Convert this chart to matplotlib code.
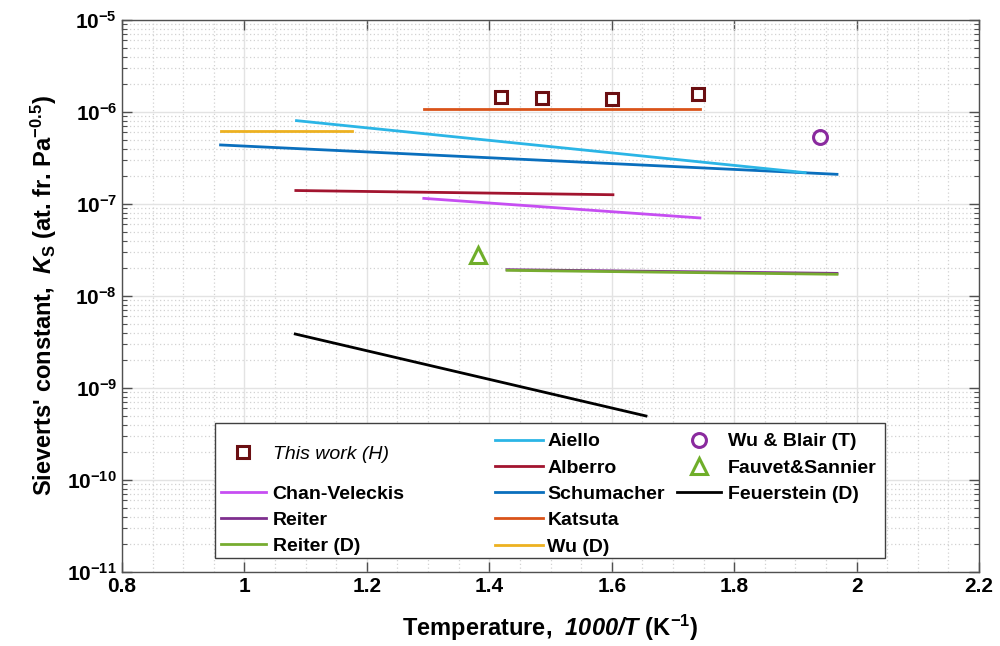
import math
import matplotlib
matplotlib.use("Agg")
import matplotlib.pyplot as plt
import matplotlib.ticker as mticker
from matplotlib.lines import Line2D
from matplotlib.patches import Rectangle

plt.rcParams['font.family'] = ['Liberation Sans', 'DejaVu Sans']
plt.rcParams['font.weight'] = 'bold'
plt.rcParams['axes.labelweight'] = 'bold'
plt.rcParams['mathtext.fontset'] = 'custom'
plt.rcParams['mathtext.rm'] = 'Liberation Sans:bold'
plt.rcParams['mathtext.bf'] = 'Liberation Sans:bold'
plt.rcParams['mathtext.it'] = 'Liberation Sans:italic:bold'
plt.rcParams['mathtext.sf'] = 'Liberation Sans:italic:bold'

# measured points (1000/T, Ks)
this_work_x = [1.419, 1.486, 1.600, 1.741]
this_work_ks = [1.44e-6, 1.43e-6, 1.37e-6, 1.56e-6]
wu_blair_x = [1.941]
wu_blair_ks = [5.3e-7]
fauvet_x = [1.382]
fauvet_ks = [2.79e-8]

# literature correlations, end points of each Arrhenius line
aiello_x = [1.085, 1.916]
aiello_ks = [8.05e-7, 2.19e-7]
alberro_x = [1.084, 1.602]
alberro_ks = [1.40e-7, 1.26e-7]
schumacher_x = [0.961, 1.968]
schumacher_ks = [4.38e-7, 2.10e-7]
katsuta_x = [1.294, 1.744]
katsuta_ks = [1.07e-6, 1.07e-6]
wu_d_x = [0.961, 1.175]
wu_d_ks = [6.27e-7, 6.27e-7]
chan_x = [1.293, 1.744]
chan_ks = [1.15e-7, 7.05e-8]
reiter_x = [1.429, 1.968]
reiter_ks = [1.93e-8, 1.76e-8]
reiter_d_x = [1.429, 1.968]
reiter_d_ks = [1.90e-8, 1.72e-8]
feuerstein_x = [1.083, 1.656]
feuerstein_ks = [3.86e-9, 4.96e-10]

x_ticks = [0.8, 1.0, 1.2, 1.4, 1.6, 1.8, 2.0, 2.2]
x_ticklabels = ['0.8', '1', '1.2', '1.4', '1.6', '1.8', '2', '2.2']

fig = plt.figure(figsize=(10, 6.46), dpi=100)
ax = fig.add_axes([0.122, 0.1146, 0.857, 0.8545])

lw = 2.0
c_aiello = '#2bb5e6'
c_alberro = '#a2142f'
c_schum = '#0a6fbd'
c_katsuta = '#d95319'
c_wu_d = '#edb120'
c_chan = '#c64ef2'
c_reiter = '#7e2f8e'
c_reiter_d = '#77ac30'

ax.plot(katsuta_x, katsuta_ks, color=c_katsuta, lw=lw, zorder=3)
ax.plot(wu_d_x, wu_d_ks, color=c_wu_d, lw=lw, zorder=3)
ax.plot(schumacher_x, schumacher_ks, color=c_schum, lw=lw, zorder=3)
ax.plot(aiello_x, aiello_ks, color=c_aiello, lw=lw, zorder=3)
ax.plot(alberro_x, alberro_ks, color=c_alberro, lw=lw, zorder=3)
ax.plot(chan_x, chan_ks, color=c_chan, lw=lw, zorder=3)
ax.plot(reiter_x, reiter_ks, color=c_reiter, lw=lw, zorder=3)
ax.plot(reiter_d_x, reiter_d_ks, color=c_reiter_d, lw=lw, zorder=3)
ax.plot(feuerstein_x, feuerstein_ks, color='black', lw=lw, zorder=3)

sq_style = dict(ls='none', marker='s', ms=8, mfc='white', mec='#6b0f12', mew=2.2)
circ_style = dict(ls='none', marker='o', ms=10, mfc='none', mec='#8a2a9e', mew=2.2)
tri_style = dict(ls='none', marker='^', ms=12, mfc='none', mec='#6fae2a', mew=2.2)
ax.plot(this_work_x, this_work_ks, zorder=4, **sq_style)
ax.plot(wu_blair_x, wu_blair_ks, zorder=4, **circ_style)
ax.plot(fauvet_x, fauvet_ks, zorder=4, **tri_style)

ax.set_yscale('log')
ax.set_xlim(0.8, 2.2)
ax.set_ylim(1e-11, 1e-5)
ax.set_xticks(x_ticks)
ax.set_xticklabels(x_ticklabels)
ax.xaxis.set_minor_locator(mticker.MultipleLocator(0.05))
ax.yaxis.set_major_locator(mticker.LogLocator(base=10, numticks=10))
ax.yaxis.set_minor_locator(mticker.LogLocator(base=10, subs=range(2, 10), numticks=20))
ax.yaxis.set_minor_formatter(mticker.NullFormatter())
ax.yaxis.set_major_formatter(
    mticker.FuncFormatter(lambda v, p: r'$\mathbf{10^{%d}}$' % round(math.log10(v))))

axis_col = '#505050'
ax.tick_params(which='both', direction='in', top=True, right=True,
               color=axis_col, labelsize=15, labelcolor='black')
ax.tick_params(which='major', length=7, width=1)
ax.tick_params(axis='y', which='minor', length=3.5, width=0.8)
ax.tick_params(axis='x', which='minor', length=0)
for s in ax.spines.values():
    s.set_color(axis_col)
    s.set_linewidth(1.0)

ax.grid(which='major', color='#e3e3e3', lw=1.0, ls='-', zorder=0)
ax.grid(which='minor', color='#d2d2d2', lw=0.9, ls=(0, (1, 2)), zorder=0)
ax.set_axisbelow(True)

ax.set_xlabel(r"Temperature,  $\mathsf{1000/T}$ (K$^{-1}$)", fontsize=17, labelpad=12)
ax.set_ylabel(r"Sieverts' constant,  $K_{\mathrm{S}}$ (at. fr. Pa$^{-0.5}$)",
              fontsize=17, labelpad=6)

# legend frame and entries
ax.add_patch(Rectangle((0.1085, 0.0254), 0.7818, 0.2446, transform=ax.transAxes,
                       facecolor='white', edgecolor='#404040', lw=1.0, zorder=5))

fs = 14
leg_kw = dict(frameon=False, borderpad=0, loc='upper left',
              labelspacing=0.445, borderaxespad=0)

h_this = [Line2D([], [], **sq_style)]
leg_a = ax.legend(h_this, ['This work (H)'], bbox_to_anchor=(0.1155, 0.230),
                  handlelength=2.3, handletextpad=0.36,
                  prop=dict(size=fs, style='italic', weight='normal'), **leg_kw)
leg_a.set_zorder(6)
ax.add_artist(leg_a)

h_col1 = [Line2D([], [], color=c, lw=lw) for c in (c_chan, c_reiter, c_reiter_d)]
leg_b = ax.legend(h_col1, ['Chan-Veleckis', 'Reiter', 'Reiter (D)'],
                  bbox_to_anchor=(0.1155, 0.1576), handlelength=2.3,
                  handletextpad=0.36, fontsize=fs, **leg_kw)
leg_b.set_zorder(6)
ax.add_artist(leg_b)

h_col2 = [Line2D([], [], color=c, lw=lw)
          for c in (c_aiello, c_alberro, c_schum, c_katsuta, c_wu_d)]
leg_c = ax.legend(h_col2, ['Aiello', 'Alberro', 'Schumacher', 'Katsuta', 'Wu (D)'],
                  bbox_to_anchor=(0.435, 0.252), handlelength=2.5,
                  handletextpad=0.2, fontsize=fs, **leg_kw)
leg_c.set_zorder(6)
ax.add_artist(leg_c)

h_col3 = [Line2D([], [], **circ_style), Line2D([], [], **tri_style),
          Line2D([], [], color='black', lw=lw)]
leg_d = ax.legend(h_col3, ['Wu & Blair (T)', 'Fauvet&Sannier', 'Feuerstein (D)'],
                  bbox_to_anchor=(0.6476, 0.252), handlelength=2.26,
                  handletextpad=0.36, fontsize=fs, **leg_kw)
leg_d.set_zorder(6)

fig.savefig('out.png', dpi=100)
